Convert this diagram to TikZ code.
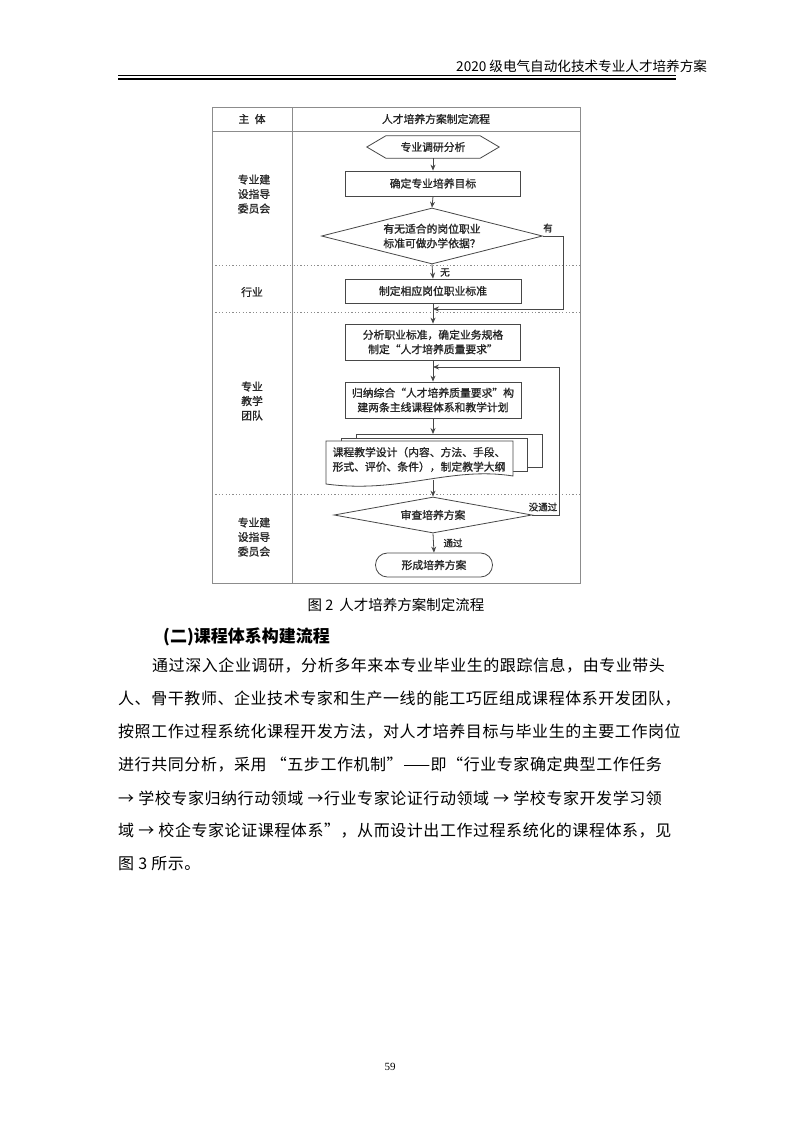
\documentclass[tikz,border=0pt]{standalone}
\usepackage{fontspec}
\setmainfont{Noto Sans CJK SC}
\newfontfamily\figf[FakeBold=1.2]{Noto Sans CJK SC}
\newfontfamily\bodyf[LetterSpace=3.5]{Noto Sans CJK SC}
\newfontfamily\pnumf{Liberation Serif}
\usetikzlibrary{shapes.geometric,arrows.meta,calc}
\definecolor{lineg}{gray}{0.28}
\definecolor{frameg}{gray}{0.55}
\definecolor{figtext}{gray}{0.15}
\begin{document}
\begin{tikzpicture}[x=1pt,y=-1pt,
  figfont/.style={font=\figf\fontsize{10.8}{14.5}\selectfont, text=figtext, align=center},
  shapeline/.style={draw=lineg, line width=0.8pt},
  proc/.style={shapeline, fill=white, figfont, inner sep=1pt, rectangle},
  dec/.style={shapeline, fill=white, figfont, diamond, inner sep=0pt, aspect=4},
  arr/.style={draw=lineg, line width=0.8pt, -{Stealth[length=6pt,width=5pt,inset=2pt]}},
  divline/.style={draw=frameg, line width=0.7pt, dash pattern=on 1.2pt off 2.2pt},
  lab/.style={figfont, font=\figf\fontsize{9.5}{11}\selectfont},
  bodyline/.style={anchor=west, font=\bodyf\fontsize{16}{20}\selectfont, inner sep=0pt}
]
\useasboundingbox[fill=white] (0,0) rectangle (793,1122);

% page header
\node[anchor=west, font=\fontsize{13.6}{16}\selectfont, inner sep=0pt] (hdr) at (456,66) {2020 级电气自动化技术专业人才培养方案};
\draw[line width=0.9pt] (118,75.7) -- (676,75.7);
\draw[line width=2.2pt] (118,78.6) -- (676,78.6);

% figure frame
\draw[frameg, line width=0.8pt] (212,107) rectangle (580,583);
\draw[frameg, line width=0.8pt] (212,131) -- (580,131);
\draw[frameg, line width=0.8pt] (292,107) -- (292,583);
\draw[divline] (212,265) -- (580,265);
\draw[divline] (212,312.5) -- (580,312.5);
\draw[divline] (212,494) -- (580,494);

% column headers and lane labels
\node[figfont] (h1) at (252,119) {主\hspace{0.5em}体};
\node[figfont] (h2) at (436,119) {人才培养方案制定流程};
\node[figfont] (l1) at (254,194) {专业建\\设指导\\委员会};
\node[figfont] (l2) at (252,292) {行业};
\node[figfont] (l3) at (252,401) {专业\\教学\\团队};
\node[figfont] (l4) at (254,537) {专业建\\设指导\\委员会};

% hexagon start
\node[figfont, minimum width=132pt, minimum height=22pt, inner sep=0pt] (hex) at (433,147) {专业调研分析};
\draw[shapeline] (hex.west) -- ($(hex.north west)+(19,0)$) -- ($(hex.north east)+(-19,0)$) -- (hex.east) -- ($(hex.south east)+(-19,0)$) -- ($(hex.south west)+(19,0)$) -- cycle;

\node[proc, minimum width=175pt, minimum height=25pt] (goal) at (433,183.5) {确定专业培养目标};
\node[dec, minimum width=221pt, minimum height=56pt] (dia1) at (432,236) {有无适合的岗位职业\\标准可做办学依据？};
\node[proc, minimum width=176pt, minimum height=24pt] (std) at (433,291) {制定相应岗位职业标准};
\node[proc, minimum width=175pt, minimum height=36pt] (ana) at (433,342) {分析职业标准，确定业务规格\\制定“人才培养质量要求”};
\node[proc, minimum width=176pt, minimum height=36pt] (ind) at (433,400) {归纳综合“人才培养质量要求”构\\建两条主线课程体系和教学计划};

% multi-document
\draw[shapeline, fill=white] (356,434) rectangle (542,467);
\draw[shapeline, fill=white] (341,438) rectangle (527,471);
\draw[shapeline, fill=white] (326,441) -- (513,441) -- (513,476) .. controls (450,466) and (400,494) .. (326,484) -- cycle;
\node[figfont] (doc) at (419,459.5) {课程教学设计（内容、方法、手段、\\形式、评价、条件），制定教学大纲};
\coordinate (docTop) at (433,434);
\coordinate (docBot) at (433,479.5);

\node[dec, minimum width=198pt, minimum height=36pt] (rev) at (433,515) {审查培养方案};
\node[proc, rounded corners=11.9pt, minimum width=117pt, minimum height=24pt] (fin) at (434,565) {形成培养方案};

% junctions
\coordinate (j1) at (433,309);
\coordinate (j2) at (433,367);
\coordinate (r1) at (563,309);
\coordinate (r2) at (559,367);

% connectors
\draw[arr] (hex.south) -- (goal.north);
\draw[arr] (goal.south) -- (dia1.north);
\draw[arr] (dia1.south) -- (std.north);
\draw[arr] (std.south) -- (ana.north);
\draw[arr] (dia1.east) -| (r1) -- (j1);
\draw[arr] (ana.south) -- (ind.north);
\draw[arr] (rev.east) -| (r2) -- (j2);
\draw[arr] (ind.south) -- (docTop);
\draw[arr] (docBot) -- (rev.north);
\draw[arr] (rev.south) -- (fin.north);

\node[lab] (ly) at (548,228) {有};
\node[lab] (ln) at (445,272.5) {无};
\node[lab] (lf) at (543,507) {没通过};
\node[lab] (lp) at (453,543) {通过};

% caption
\node[font=\fontsize{14.5}{16}\selectfont, inner sep=0pt] (cap) at (396,605) {图 2\hspace{0.4em}人才培养方案制定流程};

% section title
\node[anchor=west, font=\fontsize{17}{20}\selectfont\bfseries, inner sep=0pt] (sec) at (163,637) {(二)课程体系构建流程};

% body text
\node[bodyline] (b1) at (152,666) {通过深入企业调研，分析多年来本专业毕业生的跟踪信息，由专业带头};
\node[bodyline] (b2) at (118,699) {人、骨干教师、企业技术专家和生产一线的能工巧匠组成课程体系开发团队，};
\node[bodyline] (b3) at (118,732) {按照工作过程系统化课程开发方法，对人才培养目标与毕业生的主要工作岗位};
\node[bodyline] (b4) at (118,765) {进行共同分析，采用 “五步工作机制”——即“行业专家确定典型工作任务};
\node[bodyline] (b5) at (118,798) {→ 学校专家归纳行动领域 →行业专家论证行动领域 → 学校专家开发学习领};
\node[bodyline] (b6) at (118,831) {域 → 校企专家论证课程体系”，从而设计出工作过程系统化的课程体系，见};
\node[bodyline] (b7) at (118,864) {图 3 所示。};

% page number
\node[font=\pnumf\fontsize{11}{12}\selectfont] (pg) at (390,1067) {59};
\end{tikzpicture}
\end{document}
